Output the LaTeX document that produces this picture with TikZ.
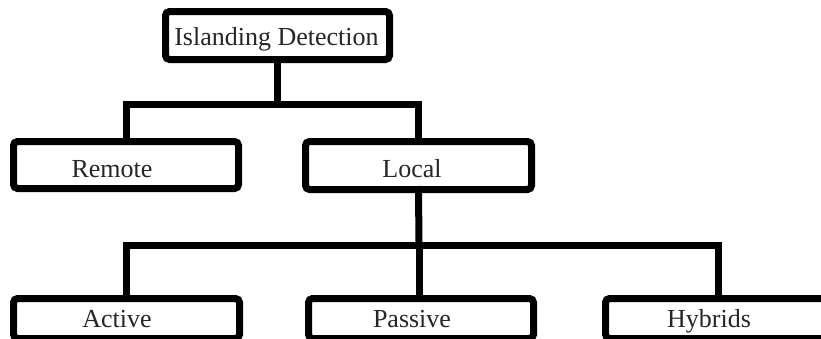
\documentclass[tikz,border=0pt]{standalone}
\usepackage{fontspec}
\setmainfont{Liberation Serif}
\begin{document}
\begin{tikzpicture}[x=1pt,y=-1pt,
  box/.style={draw=black,fill=white,line width=7pt,rounded corners=4pt,
    minimum height=#1,inner sep=0pt,outer sep=0pt,minimum width=225pt},
  box/.default=48pt,
  lbl/.style={anchor=base,inner sep=0pt,font=\fontsize{26}{28}\selectfont,text=black!85},
  conn/.style={line width=7pt,line join=miter,line cap=rect}]
\useasboundingbox (0,0) rectangle (821,338);
\fill[white] (0,0) rectangle (821,338);
\clip (0,0) rectangle (821,338);
% boxes
\node[box,minimum width=224pt] (top) at (277.5,35.5) {};
\node[box,minimum width=225pt,minimum height=47pt] (remote) at (126,165) {};
\node[box,minimum width=226pt] (local) at (418.5,165.5) {};
\node[box,minimum width=226pt,minimum height=40pt] (active) at (126.5,318.5) {};
\node[box,minimum width=225pt,minimum height=40pt] (passive) at (421,318.5) {};
\node[box,minimum width=226pt,minimum height=40pt] (hybrids) at (718.5,318.5) {};
% labels
\node[lbl] (ttop) at (276.5,45) {Islanding Detection};
\node[lbl] (tremote) at (112,177) {Remote};
\node[lbl] (tlocal) at (412,177) {Local};
\node[lbl] (tactive) at (117,327) {Active};
\node[lbl] (tpassive) at (412,327) {Passive};
\node[lbl] (thybrids) at (709,327) {Hybrids};
% connectors
\coordinate (b1) at (277.5,104);
\coordinate (b2) at (419,245);
\draw[conn] (top.south) -- (b1);
\draw[conn] (remote.north) |- (b1) -| (local.north);
\draw[conn] (local.south) -- (b2);
\draw[conn] (active.north) |- (b2) -| (hybrids.north);
\draw[conn] (b2) -- (b2 |- passive.north);
\end{tikzpicture}
\end{document}
